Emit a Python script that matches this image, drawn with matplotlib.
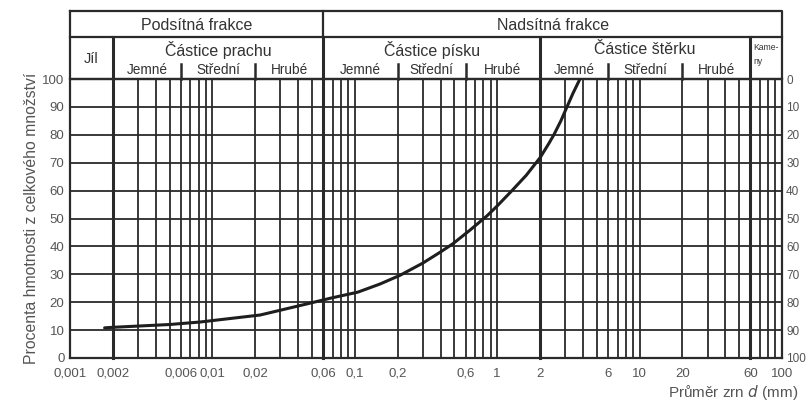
import matplotlib
matplotlib.use('Agg')
import matplotlib.pyplot as plt
import matplotlib.transforms as mtransforms
from matplotlib.ticker import FixedLocator, NullLocator, FixedFormatter

plt.rcParams['font.family'] = ['Liberation Sans', 'DejaVu Sans']

# ---------------- data ----------------
grain_d = [0.00175, 0.002, 0.005, 0.0082, 0.0216, 0.048, 0.067, 0.105, 0.15, 0.207,
           0.3, 0.4, 0.49, 0.65, 0.85, 1.0, 1.27, 1.6, 2.0, 2.3, 2.5, 2.8, 3.09, 3.4, 3.81]
passing = [10.8, 11.0, 12.0, 12.9, 15.4, 19.6, 21.4, 23.6, 26.5, 29.6,
           34.0, 38.0, 41.0, 46.0, 51.0, 54.5, 60.0, 65.5, 71.8, 76.8, 80.0, 85.0, 90.0, 94.8, 100.0]

xtick_vals = [0.001, 0.002, 0.006, 0.01, 0.02, 0.06, 0.1, 0.2, 0.6, 1, 2, 6, 10, 20, 60, 100]
xtick_labels = ['0,001', '0,002', '0,006', '0,01', '0,02', '0,06', '0,1', '0,2',
                '0,6', '1', '2', '6', '10', '20', '60', '100']
ytick_vals = [0, 10, 20, 30, 40, 50, 60, 70, 80, 90, 100]

main_bounds = [0.002, 0.06, 2, 60]
sub_bounds = [0.006, 0.02, 0.2, 0.6, 6, 20]

top_groups = [('Podsítná frakce', 0.001, 0.06), ('Nadsítná frakce', 0.06, 100)]
mid_groups = [('Částice prachu', 0.002, 0.06), ('Částice písku', 0.06, 2),
              ('Částice štěrku', 2, 60)]
sub_names = ['Jemné', 'Střední', 'Hrubé']
sub_ranges = [(0.002, 0.006), (0.006, 0.02), (0.02, 0.06),
              (0.06, 0.2), (0.2, 0.6), (0.6, 2),
              (2, 6), (6, 20), (20, 60)]

ylabel = 'Procenta hmotnosti z celkového množství'
xlabel_main = 'Průměr zrn '
# --------------------------------------

W, H = 806, 408
fig = plt.figure(figsize=(W / 100, H / 100), dpi=100)
L, R, B, T = 70, 782, 358, 79  # pixel frame of plot area
ax = fig.add_axes([L / W, (H - B) / H, (R - L) / W, (B - T) / H])
ax.set_xscale('log')
ax.set_xlim(0.001, 100)
ax.set_ylim(0, 100)

def ay(ypx):
    return (B - ypx) / (B - T)

tr = mtransforms.blended_transform_factory(ax.transData, ax.transAxes)
lc = '#2a2a2a'
tc = '#333333'

# vertical grid: every 1..9 x decade
for e in range(-3, 2):
    for m in range(1, 10):
        v = m * 10 ** e
        if v in main_bounds or abs(v - 0.06) < 1e-9:
            continue
        ax.axvline(v, color=lc, lw=1.3, zorder=1)
for b in main_bounds:
    ax.plot([b, b], [0, ay(37)], transform=tr, color=lc, lw=2.2, clip_on=False, zorder=2)
# podsítná / nadsítná divider up to header top
ax.plot([0.06, 0.06], [ay(37), ay(11)], transform=tr, color=lc, lw=1.6, clip_on=False)
# horizontal grid
for yv in ytick_vals[1:-1]:
    ax.axhline(yv, color=lc, lw=1.3, zorder=1)

for s in ax.spines.values():
    s.set_color(lc)
    s.set_linewidth(1.6)

# header frame
ax.plot([0.001, 100, 100, 0.001, 0.001], [ay(11), ay(11), 1, 1, ay(11)],
        transform=tr, color=lc, lw=1.6, clip_on=False)
ax.plot([0.001, 100], [ay(37), ay(37)], transform=tr, color=lc, lw=1.6, clip_on=False)
# sub-boundary marks
for b in sub_bounds:
    ax.plot([b, b], [ay(64), 1], transform=tr, color=lc, lw=1.8, clip_on=False)

def gmid(a, b):
    return (a * b) ** 0.5

for name, a, b in top_groups:
    ax.text(gmid(a, b), ay(25), name, transform=tr, ha='center', va='center',
            fontsize=11.5, color=tc)
for name, a, b in mid_groups:
    ax.text(gmid(a, b), ay(50), name, transform=tr, ha='center', va='center',
            fontsize=11.5, color=tc)
for i, (a, b) in enumerate(sub_ranges):
    ax.text(gmid(a, b), ay(70), sub_names[i % 3], transform=tr, ha='center',
            va='center', fontsize=9.8, color=tc)
ax.text(gmid(0.001, 0.002), ay(59), 'Jíl', transform=tr, ha='center', va='center',
        fontsize=10.5, color=tc)
ax.text(63, ay(48), 'Kame-', transform=tr, ha='left', va='center', fontsize=6.2, color=tc)
ax.text(63, ay(61), 'ny', transform=tr, ha='left', va='center', fontsize=6.2, color=tc)

# curve
ax.plot(grain_d, passing, color='#1e1e1e', lw=2.2, zorder=5, solid_capstyle='round',
        solid_joinstyle='round')

# ticks
ax.xaxis.set_major_locator(FixedLocator(xtick_vals))
ax.xaxis.set_major_formatter(FixedFormatter(xtick_labels))
ax.xaxis.set_minor_locator(NullLocator())
ax.set_yticks(ytick_vals)
ax.tick_params(axis='both', length=0, labelsize=9.5, colors='#555555')
ax.tick_params(axis='x', pad=7)
ax.tick_params(axis='y', pad=4)

ax2 = ax.twinx()
ax2.set_ylim(100, 0)
ax2.set_yticks(ytick_vals)
ax2.tick_params(axis='y', length=0, labelsize=8.5, colors='#555555', pad=3)
for s in ax2.spines.values():
    s.set_visible(False)

ax.set_ylabel(ylabel, fontsize=11.3, color='#555555', labelpad=2)

fig.text(798 / W, (H - 392) / H, xlabel_main + r'$\it{d}$' + ' (mm)', ha='right',
         va='center', fontsize=11, color='#555555')

fig.savefig('out.png', dpi=100, facecolor='white')
